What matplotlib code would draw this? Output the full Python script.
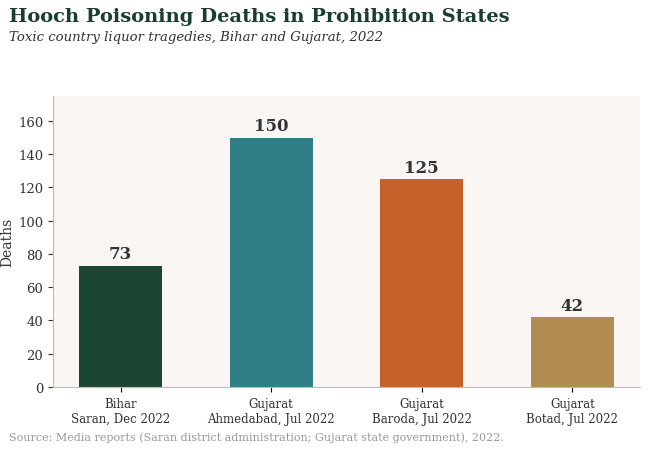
import matplotlib
matplotlib.use("Agg")
import matplotlib.pyplot as plt

labels = ["Bihar\nSaran, Dec 2022", "Gujarat\nAhmedabad, Jul 2022", "Gujarat\nBaroda, Jul 2022", "Gujarat\nBotad, Jul 2022"]
deaths = [73, 150, 125, 42]
colors = ["#1c4532", "#2e7f86", "#c5612a", "#b08c52"]

plt.rcParams['font.family'] = ['DejaVu Serif']
fig = plt.figure(figsize=(6.5, 4.52), dpi=100)
ax = fig.add_axes([53/650, 1-388/452, 587/650, 291/452])
ax.set_facecolor("#faf6f4")
x = range(len(deaths))
ax.bar(x, deaths, width=0.55, color=colors)
for i, v in zip(x, deaths):
    ax.text(i, v + 2, str(v), ha="center", va="bottom", fontsize=12, fontweight="bold", color="#333333")
ax.set_xticks(list(x))
ax.set_xticklabels(labels, fontsize=8.5, color="#333333")
ax.set_ylim(0, 175)
ax.set_xlim(-0.45, 3.45)
ax.set_yticks(range(0, 161, 20))
ax.tick_params(axis="y", labelsize=9.5, colors="#333333")
ax.set_ylabel("Deaths", fontsize=10, color="#333333", labelpad=3)
for s in ["top", "right"]:
    ax.spines[s].set_visible(False)
for s in ["left", "bottom"]:
    ax.spines[s].set_color("#bbbbbb")
fig.text(9/650, 1-17/452, "Hooch Poisoning Deaths in Prohibition States", fontsize=14, fontweight="bold", color="#1a3d2e", va="center")
fig.text(9/650, 1-38/452, "Toxic country liquor tragedies, Bihar and Gujarat, 2022", fontsize=9.5, style="italic", color="#333333", va="center")
fig.text(9/650, 1-438/452, "Source: Media reports (Saran district administration; Gujarat state government), 2022.", fontsize=8, color="#999999", va="center")
fig.savefig("out.png", dpi=100, facecolor="white")
